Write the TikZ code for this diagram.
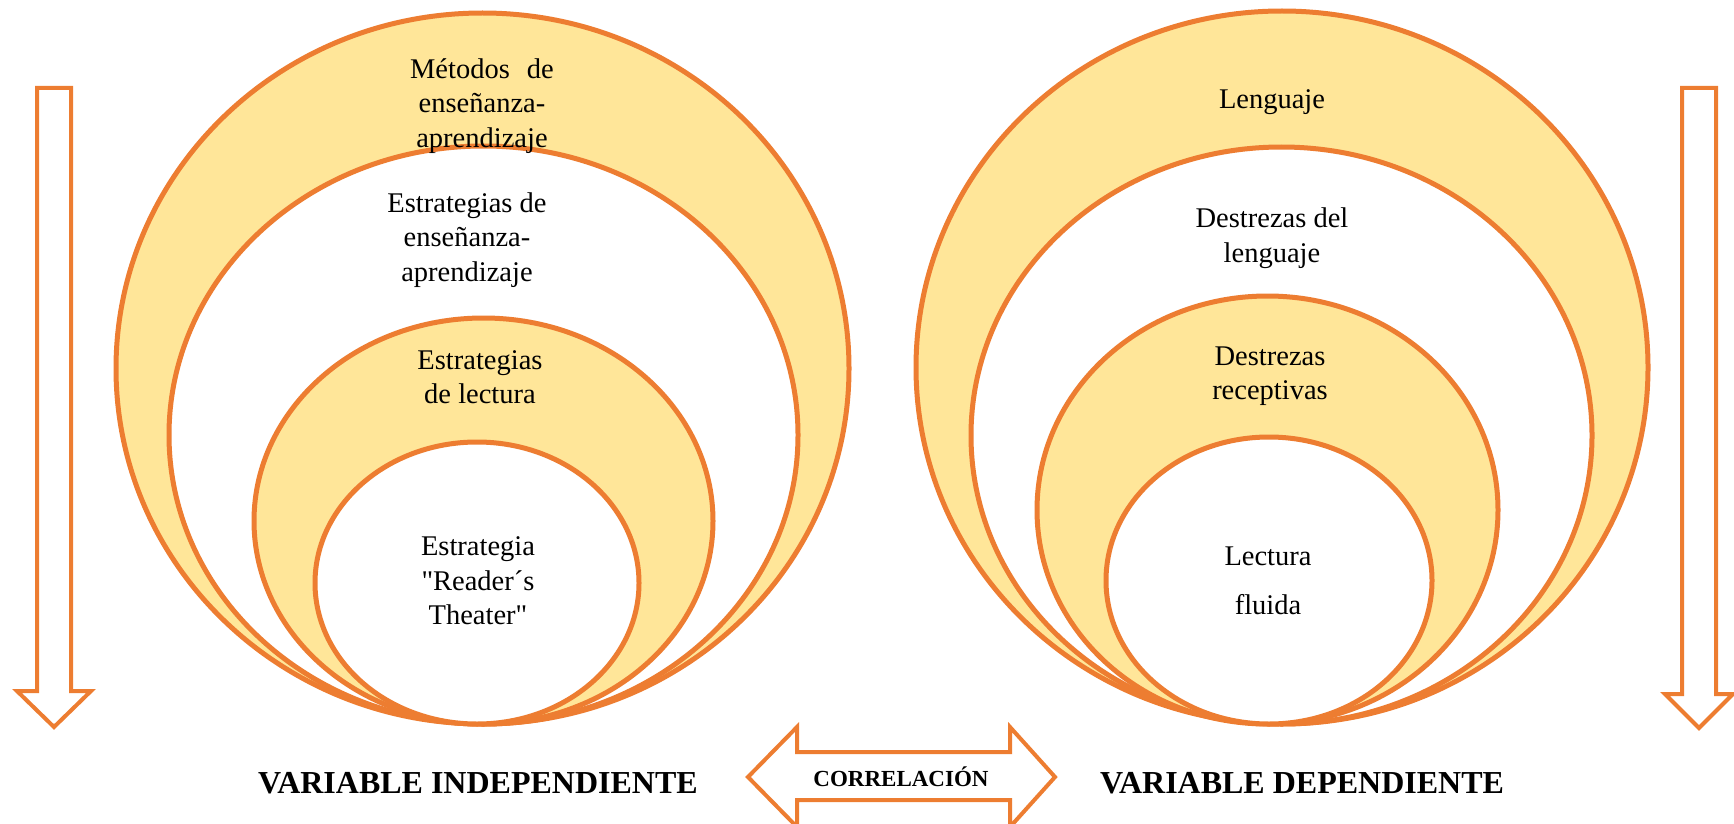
\documentclass[tikz,border=0pt]{standalone}
\usepackage{fontspec}
\setmainfont{Liberation Serif}
\usetikzlibrary{shapes.geometric}
\definecolor{ringline}{HTML}{ED7D31}
\definecolor{ringfill}{HTML}{FFE699}
\tikzset{
    ring/.style={shape=ellipse,draw=ringline,line width=5pt,inner sep=0pt},
    txt/.style={align=center,font=\fontsize{28.5}{34.5}\selectfont},
    varlabel/.style={font=\fontsize{32}{36}\selectfont\bfseries},
    blockarrow/.style={draw=ringline,line width=4pt,fill=white,line join=miter}
}
\begin{document}
\begin{tikzpicture}[x=1pt,y=-1pt]
        \useasboundingbox (0,0) rectangle (1734,824);

        % independent variable rings
        \node[ring,fill=ringfill,minimum width=733pt,minimum height=711pt] (l1) at (482.5,368.5) {};
        \node[ring,fill=white,minimum width=629pt,minimum height=578pt] (l2) at (483.5,435) {};
        \node[ring,fill=ringfill,minimum width=459pt,minimum height=406pt] (l3) at (483.5,521) {};
        \node[ring,fill=white,minimum width=324pt,minimum height=282pt] (l4) at (477,583) {};

        % dependent variable rings
        \node[ring,fill=ringfill,minimum width=732pt,minimum height=713pt] (r1) at (1282,367.5) {};
        \node[ring,fill=white,minimum width=621pt,minimum height=577pt] (r2) at (1281.5,435.5) {};
        \node[ring,fill=ringfill,minimum width=461pt,minimum height=428pt] (r3) at (1267.5,510) {};
        \node[ring,fill=white,minimum width=326pt,minimum height=287pt] (r4) at (1269,580.5) {};

        \node[txt] (t1) at (482,106) {Métodos\hspace{0.6em}de\\enseñanza-\\aprendizaje};
        \node[txt] (t2) at (467,240) {Estrategias de\\enseñanza-\\aprendizaje};
        \node[txt] (t3) at (480,377) {Estrategias\\de lectura};
        \node[txt] (t4) at (478,581) {Estrategia\\\textquotedbl Reader´s\\Theater\textquotedbl};

        \node[txt] (u1) at (1272,102) {Lenguaje};
        \node[txt] (u2) at (1272,238) {Destrezas del\\lenguaje};
        \node[txt] (u3) at (1270,376) {Destrezas\\receptivas};
        \node[txt] (u4) at (1268,581) {Lectura\\[14pt]fluida};

        % block arrows
        \draw[blockarrow] (37,88) -- (71,88) -- (71,691) -- (91,691) -- (54,727)
            -- (17,691) -- (37,691) -- cycle;
        \draw[blockarrow] (1682,88) -- (1716,88) -- (1716,694) -- (1733,694) -- (1699,728)
            -- (1665,694) -- (1682,694) -- cycle;
        \draw[blockarrow] (748,777) -- (797,727) -- (797,752) -- (1010,752) -- (1010,727)
            -- (1055,777) -- (1010,827) -- (1010,800) -- (797,800) -- (797,827) -- cycle;

        \node[font=\fontsize{23}{26}\selectfont\bfseries] (corr) at (901,777) {CORRELACIÓN};
        \node[varlabel] (vi) at (478,783) {VARIABLE INDEPENDIENTE};
        \node[varlabel] (vd) at (1302,783) {VARIABLE DEPENDIENTE};
    \end{tikzpicture}
\end{document}
